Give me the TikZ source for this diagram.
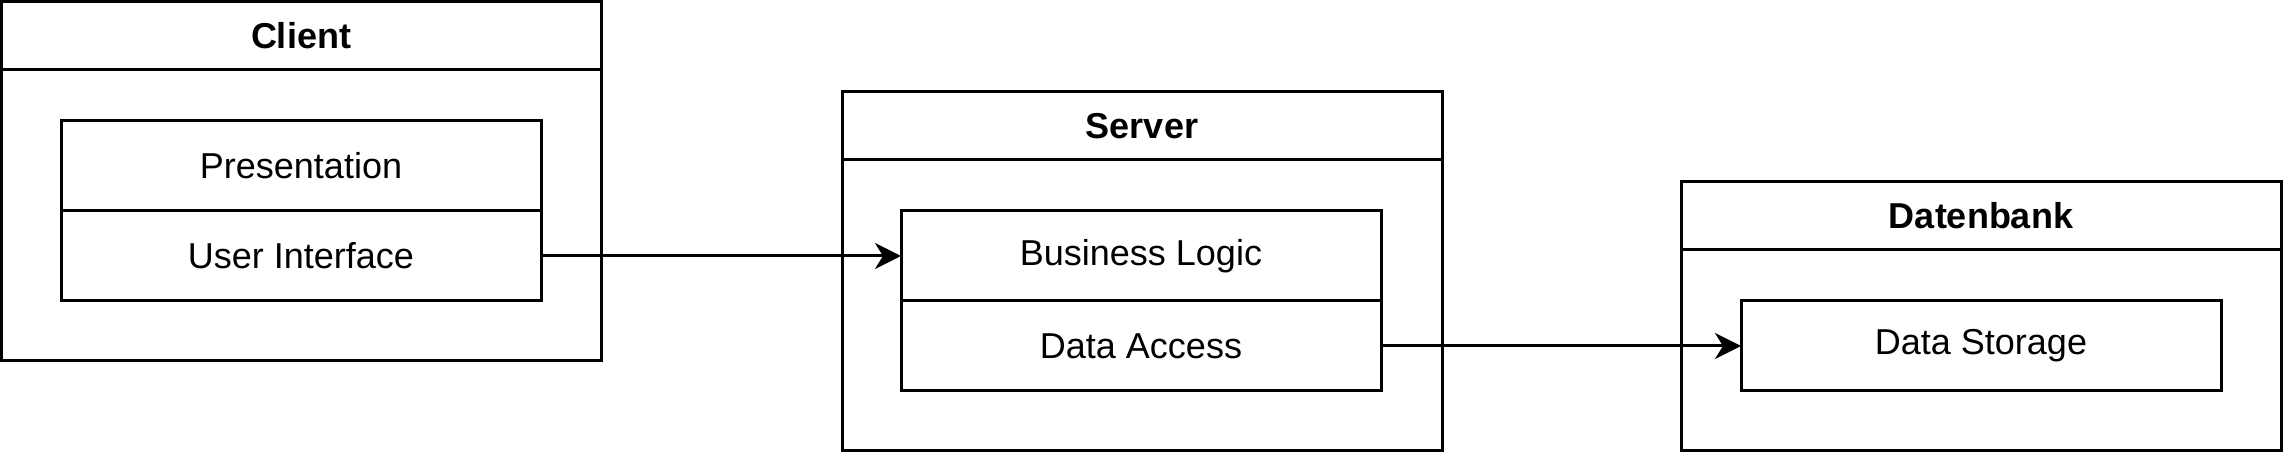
\documentclass[tikz,border=0pt]{standalone}
\usepackage{fontspec}
\setmainfont{Liberation Sans}
\usetikzlibrary{arrows.meta}
\tikzset{
  every node/.style={outer sep=0pt, inner sep=0pt},
  boxline/.style={draw=black, line width=1.5pt},
  hdr/.style={boxline, minimum width=300pt, minimum height=34pt, font=\fontsize{18}{21}\selectfont\bfseries},
  body/.style={boxline, minimum width=300pt},
  cell/.style={boxline, minimum width=240pt, minimum height=45pt, font=\fontsize{18}{21}\selectfont},
  conn/.style={line width=1.5pt, -{Stealth[length=13pt, width=13pt, inset=4pt]}}
}
\begin{document}
\begin{tikzpicture}[x=0.5pt, y=-0.5pt]
\useasboundingbox (0,0) rectangle (2283,453);
% Client
\node[hdr, anchor=north west] (clienthead) at (1,2) {Client};
\node[body, anchor=north west, minimum height=145.5pt] (clientbody) at (clienthead.south west) {};
\node[cell, anchor=north west] (pres) at (61,121) {Presentation};
\node[cell, anchor=north] (ui) at (pres.south) {User Interface};
% Server
\node[hdr, anchor=north west] (serverhead) at (842,92) {Server};
\node[body, anchor=north west, minimum height=145.5pt] (serverbody) at (serverhead.south west) {};
\node[cell, anchor=north west] (bl) at (901,211) {Business Logic};
\node[cell, anchor=north] (da) at (bl.south) {Data Access};
% Datenbank
\node[hdr, anchor=north west] (dbhead) at (1681,182) {Datenbank};
\node[body, anchor=north west, minimum height=100.5pt] (dbbody) at (dbhead.south west) {};
\node[cell, anchor=north west] (ds) at (1741,301) {Data Storage};
% Connectors
\draw[conn] (ui.east) -- (bl.west);
\draw[conn] (da.east) -- (ds.west);
\end{tikzpicture}
\end{document}
